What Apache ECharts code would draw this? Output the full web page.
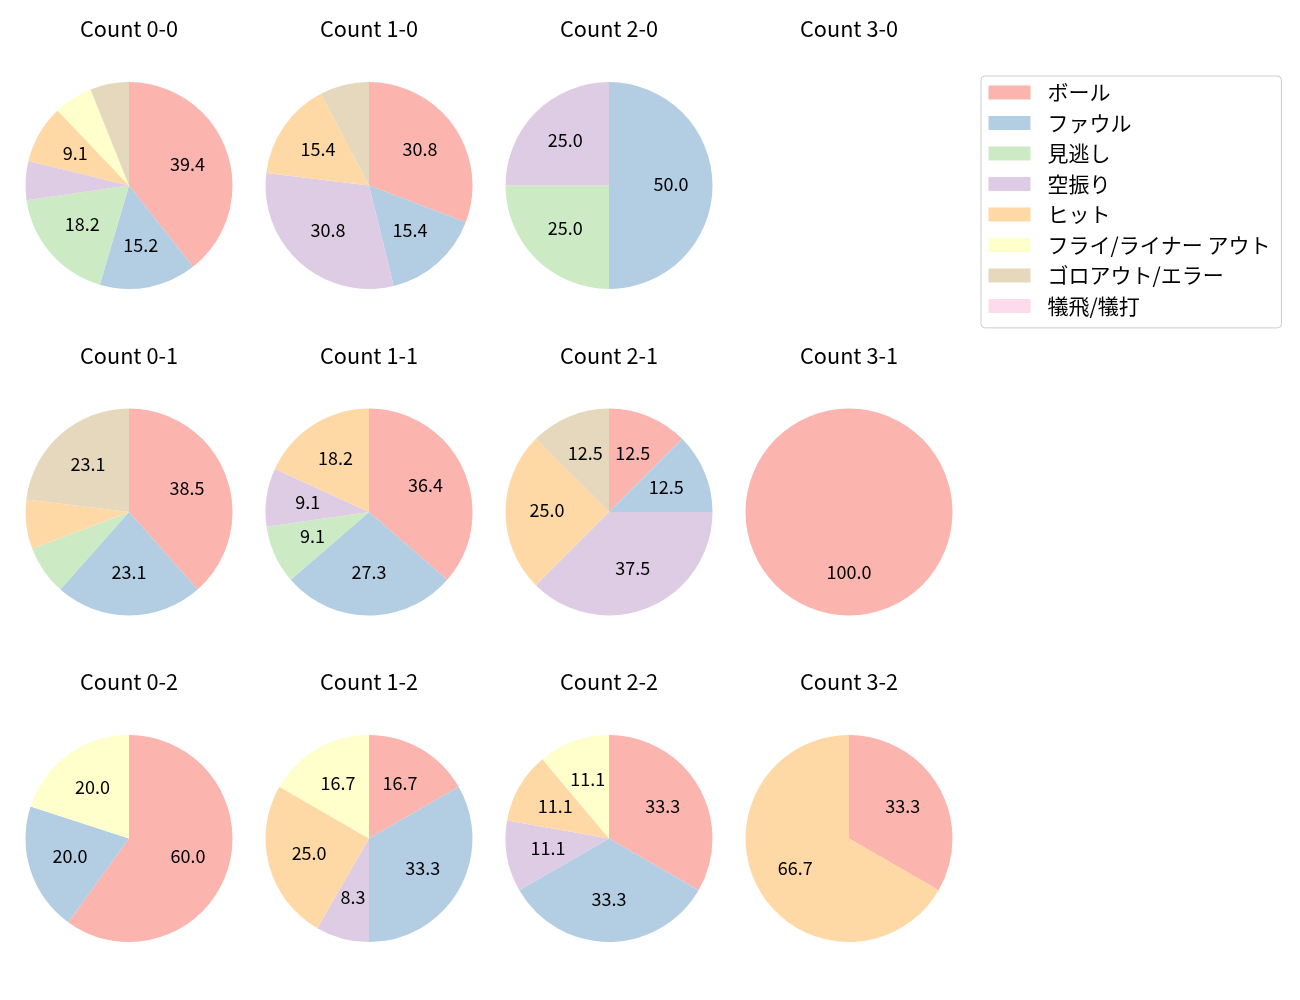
<!DOCTYPE html>
<html>
<head>
<meta charset="utf-8">
<script src="https://cdn.jsdelivr.net/npm/echarts@6/dist/echarts.min.js"></script>
<style>
html,body{margin:0;padding:0;background:#fff;}
#main{width:1300px;height:1000px;}
</style>
</head>
<body>
<div id="main"></div>
<script>
// categories (legend order)
const categories = ['ボール','ファウル','見逃し','空振り','ヒット','フライ/ライナー アウト','ゴロアウト/エラー','犠飛/犠打'];
const colors = ['#fbb4ae','#b3cde3','#ccebc5','#decbe4','#fed9a6','#ffffcc','#e5d8bd','#fddaec'];

// counts per category for each ball-strike count
const c00 = [13,5,6,2,3,2,2,0];
const c10 = [4,2,0,4,2,0,1,0];
const c20 = [0,2,1,1,0,0,0,0];
const c30 = [0,0,0,0,0,0,0,0];
const c01 = [5,3,1,0,1,0,3,0];
const c11 = [4,3,1,1,2,0,0,0];
const c21 = [1,1,0,3,2,0,1,0];
const c31 = [1,0,0,0,0,0,0,0];
const c02 = [3,1,0,0,0,1,0,0];
const c12 = [2,4,0,1,3,2,0,0];
const c22 = [3,3,0,1,1,1,0,0];
const c32 = [1,0,0,0,2,0,0,0];

const titles = [
  ['Count 0-0','Count 1-0','Count 2-0','Count 3-0'],
  ['Count 0-1','Count 1-1','Count 2-1','Count 3-1'],
  ['Count 0-2','Count 1-2','Count 2-2','Count 3-2']
];
const grid = [
  [c00,c10,c20,c30],
  [c01,c11,c21,c31],
  [c02,c12,c22,c32]
];

const FONT = '"Noto Sans CJK JP","Noto Sans",sans-serif';
const R = 103.5;
const X0 = 129, DX = 240, Y0 = 185.5, DY = 326.5, TY0 = 29;
const THRESH = 8;

const series = [];
const graphics = [];
for (let r = 0; r < 3; r++) {
  for (let c = 0; c < 4; c++) {
    const vals = grid[r][c];
    const cx = X0 + DX * c, cy = Y0 + DY * r;
    graphics.push({
      type: 'text', x: cx, y: TY0 + DY * r,
      style: { text: titles[r][c], align: 'center', verticalAlign: 'middle',
               font: '21.7px ' + FONT, fill: '#000' }
    });
    const total = vals.reduce((a, b) => a + b, 0);
    if (total === 0) continue;
    const data = categories.map((n, i) => ({ name: n, value: vals[i], itemStyle: { color: colors[i] } }));
    series.push({
      type: 'pie', center: [cx, cy], radius: [0, R],
      startAngle: 90, clockwise: true, animation: false,
      avoidLabelOverlap: false, stillShowZeroSum: false,
      itemStyle: { borderWidth: 0 },
      label: { show: false }, labelLine: { show: false },
      emphasis: { disabled: true },
      data: data
    });
    series.push({
      type: 'pie', center: [cx, cy], radius: [R * 0.14, R],
      startAngle: 90, clockwise: true, animation: false, silent: true,
      avoidLabelOverlap: false, stillShowZeroSum: false, legendHoverLink: false,
      itemStyle: { color: 'rgba(0,0,0,0)', borderWidth: 0 },
      labelLine: { show: false },
      emphasis: { disabled: true },
      label: {
        show: true, position: 'inside', color: '#000', fontSize: 18, fontFamily: FONT,
        offset: [0, -1.5],
        formatter: function (p) {
          const pct = p.value / total * 100;
          return pct >= THRESH ? pct.toFixed(1) : '';
        }
      },
      data: categories.map((n, i) => ({ name: n, value: vals[i] }))
    });
  }
}

const chart = echarts.init(document.getElementById('main'), null, { renderer: 'canvas' });
chart.setOption({
  backgroundColor: '#fff',
  animation: false,
  legend: {
    orient: 'vertical', left: 981, top: 76,
    data: categories.map((n, i) => ({ name: n, itemStyle: { color: colors[i] } })),
    icon: 'rect', itemWidth: 42, itemHeight: 14, itemGap: 9.5,
    padding: [6, 11, 11.4, 7.5],
    backgroundColor: '#fff', borderColor: '#cccccc', borderWidth: 1, borderRadius: 4,
    selectedMode: false,
    textStyle: { fontSize: 21, lineHeight: 20, fontFamily: FONT, color: '#000', padding: [0, 0, 0, 12] }
  },
  graphic: graphics,
  series: series
});
</script>
</body>
</html>
